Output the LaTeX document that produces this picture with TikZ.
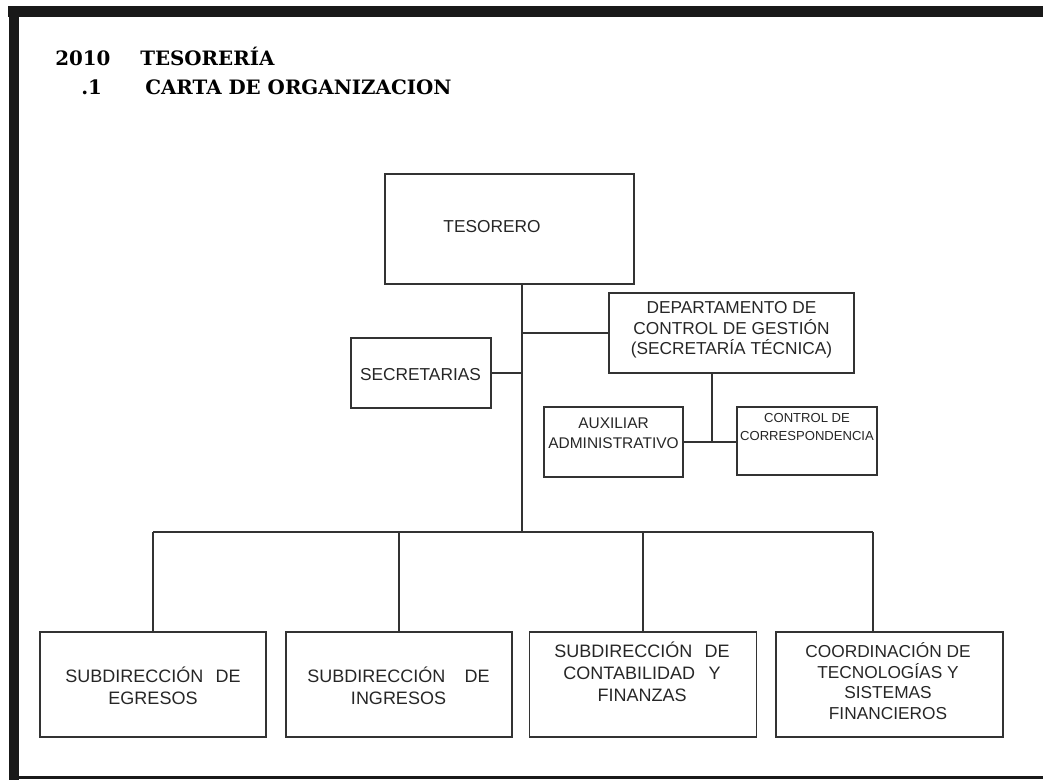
\documentclass[tikz,border=0pt]{standalone}
\usepackage{fontspec}
\setmainfont{Liberation Sans}
\newfontfamily\titlefont{DejaVu Serif}
\newlength\unitpx
\setlength\unitpx{0.025cm}

\tikzset{
  orgbox/.style={draw=black!80, line width=1pt, rectangle, inner sep=0pt},
  boxtext/.style={align=center, inner sep=0pt, text=black!85, font=\fontsize{12.3}{14.6}\selectfont},
  bigtext/.style={boxtext, font=\fontsize{12.8}{15.6}\selectfont},
  auxtext/.style={boxtext, font=\fontsize{11}{14.2}\selectfont},
  smalltext/.style={boxtext, font=\fontsize{9.3}{12.8}\selectfont},
  link/.style={draw=black!80, line width=1pt},
  ttl/.style={anchor=base west, inner sep=0pt, font=\titlefont\bfseries\fontsize{14.1}{18}\selectfont}
}

\begin{document}
\begin{tikzpicture}[x=\unitpx, y=-\unitpx]
  \useasboundingbox (0,0) rectangle (1043,780);
  \fill[black!90] (8,6) rectangle (1043,17);
  \fill[black!90] (9,6) rectangle (19,780);
  \fill[black!90] (9,776) rectangle (1043,779);

  \node[ttl] (yr) at (55,66) {2010};
  \node[ttl] (tes-ttl) at (140,66) {TESORERÍA};
  \node[ttl] (sec-num) at (81,95) {.1};
  \node[ttl] (carta) at (145,95) {CARTA DE ORGANIZACION};

  \node[orgbox, minimum width=249\unitpx, minimum height=110\unitpx] (tes) at (509.5,229) {};
  \node[boxtext] (tes-t) at (492,227) {TESORERO};

  \node[orgbox, minimum width=245\unitpx, minimum height=80\unitpx] (dep) at (731.5,333) {};
  \node[boxtext] (dep-t) at (731.5,330) {DEPARTAMENTO DE\\CONTROL DE GESTIÓN\\(SECRETARÍA TÉCNICA)};

  \node[orgbox, minimum width=140\unitpx, minimum height=70\unitpx] (sec) at (421,373) {};
  \node[boxtext] (sec-t) at (420.5,375) {SECRETARIAS};

  \node[orgbox, minimum width=139\unitpx, minimum height=70\unitpx] (aux) at (613.5,442) {};
  \node[auxtext] (aux-t) at (613.5,433) {AUXILIAR\\ADMINISTRATIVO};

  \node[orgbox, minimum width=140\unitpx, minimum height=68\unitpx] (cor) at (807,441) {};
  \node[smalltext] (cor-t) at (807,427) {CONTROL DE\\CORRESPONDENCIA};

  \node[orgbox, minimum width=226\unitpx, minimum height=105\unitpx] (b1) at (153,684.5) {};
  \node[bigtext] (b1-t) at (153,686) {SUBDIRECCIÓN\hspace{5pt} DE\\EGRESOS};

  \node[orgbox, minimum width=226\unitpx, minimum height=105\unitpx] (b2) at (399,684.5) {};
  \node[bigtext] (b2-t) at (398.5,686) {SUBDIRECCIÓN\hspace{10pt} DE\\INGRESOS};

  \node[orgbox, minimum width=227\unitpx, minimum height=105\unitpx] (b3) at (643,684.5) {};
  \node[bigtext] (b3-t) at (642,672) {SUBDIRECCIÓN\hspace{5pt} DE\\CONTABILIDAD\hspace{6pt} Y\\FINANZAS};

  \node[orgbox, minimum width=227\unitpx, minimum height=105\unitpx] (b4) at (889.5,684.5) {};
  \node[boxtext] (b4-t) at (888,681) {COORDINACIÓN DE\\TECNOLOGÍAS Y\\SISTEMAS\\FINANCIEROS};

  \coordinate (hub) at (522,532);
  \coordinate (busR) at (873,532);
  \coordinate (dephub) at (712,442);

  \draw[link] (tes.south -| hub) -- (hub);
  \draw[link] (sec.east) -- (sec.east -| hub);
  \draw[link] (dep.west -| hub) -- (dep.west);
  \draw[link] (dep.south -| dephub) -- (dephub);
  \draw[link] (aux.east) -- (aux.east -| cor.west);

  \draw[link] (b1.north |- hub) -- (busR);
  \foreach \b in {b1,b2,b3} {
    \draw[link] (\b.north |- hub) -- (\b.north);
  }
  \draw[link] (busR) -- (busR |- b4.north);
\end{tikzpicture}
\end{document}
